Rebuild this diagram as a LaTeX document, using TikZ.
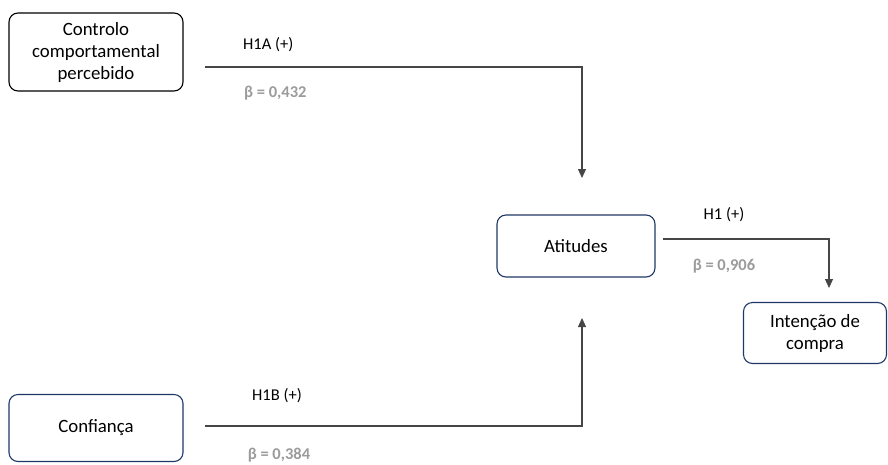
\documentclass[tikz,border=0pt]{standalone}
\usepackage{fontspec}
\setmainfont{Carlito}
\usetikzlibrary{arrows.meta}
\definecolor{navy}{RGB}{31,56,100}
\definecolor{betagray}{RGB}{155,155,155}
\definecolor{linkgray}{RGB}{70,70,70}
\tikzset{
  construct/.style={draw=navy, line width=1.1pt, rounded corners=9pt, align=center,
    inner sep=0pt, font=\fontsize{18.8}{22}\selectfont},
  hyp/.style={font=\fontsize{16.5}{19}\selectfont, inner sep=0pt},
  beta/.style={font=\fontsize{16.5}{19}\selectfont\bfseries, text=betagray, inner sep=0pt},
  link/.style={draw=linkgray, line width=1.1pt, -{Triangle[width=8pt,length=9pt]}},
}
\begin{document}
\begin{tikzpicture}[x=1pt, y=-1pt]
  \useasboundingbox (0,0) rectangle (888,464);

  % constructs
  \node[construct, draw=black, minimum width=174pt, minimum height=78pt] (pbc) at (96,52)
    {Controlo\\comportamental\\percebido};
  \node[construct, minimum width=158pt, minimum height=62pt] (att) at (576,246) {Atitudes};
  \node[construct, minimum width=143pt, minimum height=61pt] (pi) at (815,333)
    {Intenção de\\compra};
  \node[construct, minimum width=174pt, minimum height=67pt] (trust) at (96,428) {Confiança};

  % connector ends
  \coordinate (h1a-s) at (205,67);
  \coordinate (h1a-e) at (582,178);
  \coordinate (h1b-s) at (205,426);
  \coordinate (h1b-e) at (582,318);
  \coordinate (h1-s) at (663,239);
  \coordinate (h1-e) at (829,288);

  % paths
  \draw[link] (h1a-s) -| (h1a-e);
  \draw[link] (h1b-s) -| (h1b-e);
  \draw[link] (h1-s) -| (h1-e);

  % hypothesis labels and coefficients
  \node[hyp, anchor=west] (l1a) at (243,45) {H1A (+)};
  \node[beta, anchor=west] (b1a) at (244,93) {β = 0,432};
  \node[hyp] (l1) at (724,215) {H1 (+)};
  \node[beta] (b1) at (724,266) {β = 0,906};
  \node[hyp] (l1b) at (277,396) {H1B (+)};
  \node[beta] (b1b) at (279,455) {β = 0,384};
\end{tikzpicture}
\end{document}
